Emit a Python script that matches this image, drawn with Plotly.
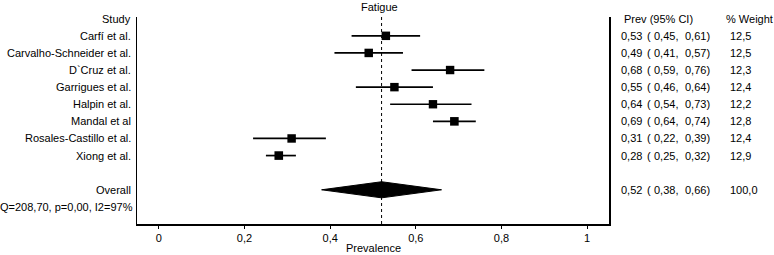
import plotly.graph_objects as go

studies = ["Carfí et al.", "Carvalho-Schneider et al.", "D`Cruz et al.", "Garrigues et al.",
           "Halpin et al.", "Mandal et al", "Rosales-Castillo et al.", "Xiong et al."]
prev = [0.53, 0.49, 0.68, 0.55, 0.64, 0.69, 0.31, 0.28]
lo = [0.45, 0.41, 0.59, 0.46, 0.54, 0.64, 0.22, 0.25]
hi = [0.61, 0.57, 0.76, 0.64, 0.73, 0.74, 0.39, 0.32]
weight = [12.5, 12.5, 12.3, 12.4, 12.2, 12.8, 12.4, 12.9]
overall_prev, overall_lo, overall_hi, overall_weight = 0.52, 0.38, 0.66, 100.0
het_text = "Q=208,70, p=0,00, I2=97%"
tick_vals = [0, 0.2, 0.4, 0.6, 0.8, 1]
tick_text = ["0", "0,2", "0,4", "0,6", "0,8", "1"]

FONT = "Liberation Sans, Arial, sans-serif"
W, H = 774, 255
L, R, T, B = 137, 165, 17, 31
pw = W - L - R
ph = H - T - B

def px2paper(px):
    return (px - L) / pw

def fmt(v, nd=2):
    return f"{v:.{nd}f}".replace(".", ",")

rows = list(range(1, len(studies) + 1))
overall_row = len(studies) + 2
het_row = overall_row + 1

fig = go.Figure()

# CI lines
for r, a, b in zip(rows, lo, hi):
    fig.add_trace(go.Scatter(x=[a, b], y=[r, r], mode="lines",
                             line=dict(color="black", width=1.7), hoverinfo="skip", showlegend=False))

# reference dotted line at overall estimate
fig.add_trace(go.Scatter(x=[overall_prev, overall_prev], y=[-0.1, het_row + 1], mode="lines",
                         line=dict(color="black", width=1, dash="dot"), showlegend=False, hoverinfo="skip"))

# squares
fig.add_trace(go.Scatter(x=prev, y=rows, mode="markers",
                         marker=dict(symbol="square", color="#000000", opacity=1,
                                     size=[2.4 * w ** 0.5 for w in weight],
                                     line=dict(width=0)),
                         showlegend=False))

# diamond
dh = 0.47
fig.add_trace(go.Scatter(x=[overall_lo, overall_prev, overall_hi, overall_prev, overall_lo],
                         y=[overall_row, overall_row - dh, overall_row, overall_row + dh, overall_row],
                         mode="lines", fill="toself", fillcolor="black",
                         line=dict(color="black", width=1), showlegend=False))

ann = []
def text(x, y, s, anchor="left", xref="paper", size=11):
    ann.append(dict(x=x, y=y, xref=xref, yref="y", text=s, showarrow=False,
                    xanchor=anchor, yanchor="middle", font=dict(family=FONT, size=size, color="black")))

lx = px2paper(133)
text(lx, 0, "Study", "right")
for r, s in zip(rows, studies):
    text(lx, r, s, "right")
text(lx, overall_row, "Overall", "right")
text(px2paper(135), het_row, het_text, "right")

# right table
text(px2paper(622), 0, "Prev (95% CI)")
text(px2paper(724), 0, "% Weight")
all_rows = rows + [overall_row]
all_p = prev + [overall_prev]
all_lo = lo + [overall_lo]
all_hi = hi + [overall_hi]
all_w = weight + [overall_weight]
for r, p, a, b, w in zip(all_rows, all_p, all_lo, all_hi, all_w):
    text(px2paper(619), r, fmt(p))
    text(px2paper(645), r, "(")
    text(px2paper(652), r, fmt(a) + ",")
    text(px2paper(683), r, fmt(b) + ")")
    text(px2paper(728), r, fmt(w, 1))

# titles
ann.append(dict(x=px2paper(379), y=1 + (T - 7) / ph, xref="paper", yref="paper", text="Fatigue",
                showarrow=False, xanchor="center", yanchor="middle",
                font=dict(family=FONT, size=11, color="black")))
ann.append(dict(x=0.5, y=-(248 - (H - B)) / ph, xref="x", yref="paper", text="Prevalence",
                showarrow=False, xanchor="center", yanchor="middle",
                font=dict(family=FONT, size=11, color="black")))

fig.update_layout(
    width=W, height=H,
    margin=dict(l=L, r=R, t=T, b=B, pad=0),
    paper_bgcolor="white", plot_bgcolor="white",
    annotations=ann,
    hovermode=False,
    xaxis=dict(range=[-0.051, 1.051], tickvals=tick_vals, ticktext=tick_text,
               showgrid=False, zeroline=False, showline=True, linecolor="black", linewidth=1.5,
               ticks="outside", ticklen=3, tickcolor="black", tickwidth=1,
               tickfont=dict(family=FONT, size=11, color="black")),
    yaxis=dict(range=[het_row + 1, -0.1], showgrid=False, zeroline=False, showticklabels=False,
               showline=True, mirror=True, linecolor="black", linewidth=1.5, ticks=""),
    showlegend=False,
)

fig.write_html("out.html", config={"displayModeBar": False, "staticPlot": True},
               post_script="document.body.style.margin='0';document.body.style.padding='0';document.body.style.overflow='hidden';")
